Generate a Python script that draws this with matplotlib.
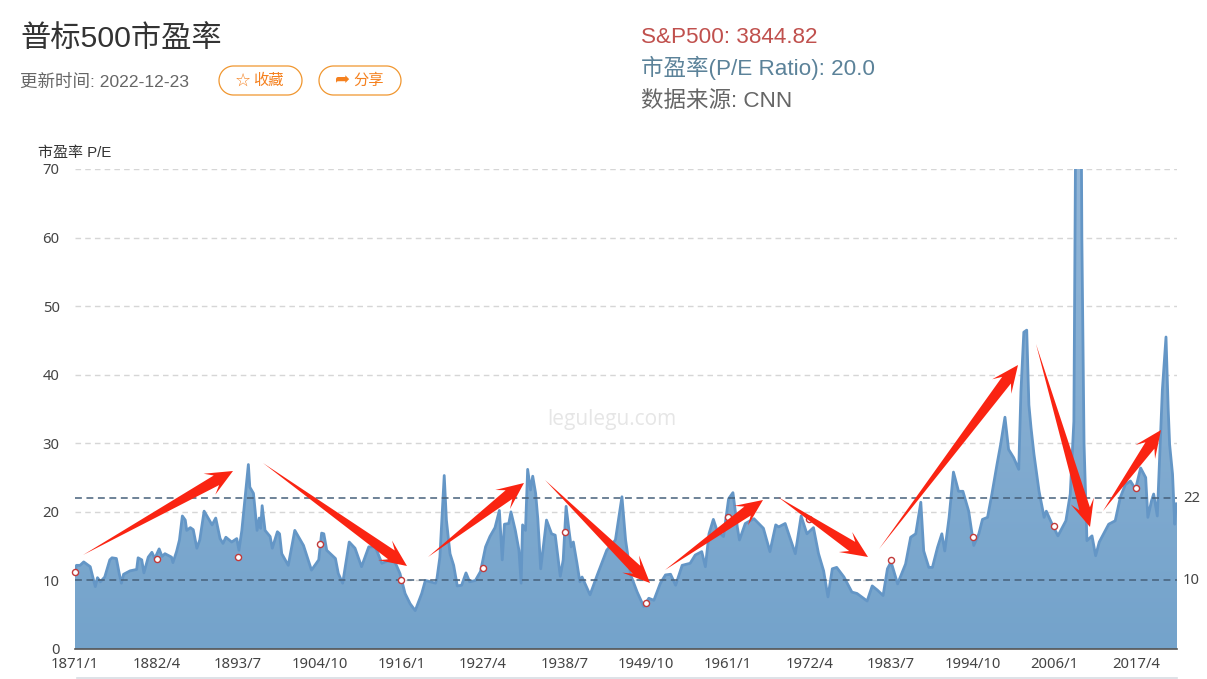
import numpy as np
import matplotlib.pyplot as plt
from matplotlib.patches import Polygon

plt.rcParams['font.family'] = ['Liberation Sans', 'Noto Sans CJK SC', 'DejaVu Sans']

W, H = 1207, 679

# decimal year, P/E
pe_year = [
    1871.0, 1871.2, 1871.7, 1872.2, 1873.1, 1873.5, 1873.8, 1874.1, 1874.5, 1875.1, 1875.8, 1876.1, 1876.7, 1877.1,
    1877.4, 1877.7, 1878.6, 1879.5, 1879.7, 1880.2, 1880.5, 1881.1, 1881.6, 1882.0, 1882.6, 1883.0, 1883.4, 1884.3,
    1884.5, 1885.0, 1885.4, 1885.8, 1886.2, 1886.4, 1886.9, 1887.3, 1887.8, 1888.2, 1888.8, 1889.4, 1889.9, 1890.4,
    1891.0, 1891.4, 1891.8, 1892.6, 1893.3, 1893.6, 1894.0, 1894.6, 1894.9, 1895.1, 1895.6, 1896.1, 1896.4, 1896.6,
    1896.8, 1897.2, 1897.9, 1898.2, 1898.9, 1899.2, 1899.5, 1900.4, 1901.3, 1902.5, 1903.6, 1904.6, 1905.0, 1905.3,
    1905.7, 1906.9, 1907.3, 1907.9, 1908.8, 1909.6, 1910.5, 1911.5, 1912.4, 1913.3, 1914.9, 1915.8, 1916.5, 1917.2,
    1917.9, 1918.8, 1919.3, 1920.0, 1920.7, 1920.9, 1921.3, 1921.9, 1922.2, 1922.7, 1923.2, 1923.7, 1924.3, 1924.9,
    1925.4, 1926.2, 1926.9, 1927.6, 1928.2, 1928.9, 1929.5, 1929.9, 1930.2, 1930.8, 1931.1, 1931.7, 1932.2, 1932.5,
    1932.7, 1933.1, 1933.4, 1933.8, 1934.1, 1934.5, 1934.8, 1935.2, 1936.0, 1936.7, 1937.2, 1937.9, 1938.3, 1938.7,
    1939.1, 1939.4, 1939.7, 1940.2, 1940.6, 1940.9, 1942.0, 1943.0, 1944.3, 1945.5, 1946.4, 1946.9, 1947.6, 1948.5,
    1949.4, 1950.1, 1950.8, 1951.7, 1952.4, 1953.1, 1953.8, 1954.7, 1955.8, 1956.5, 1957.4, 1957.9, 1958.4, 1959.0,
    1959.5, 1960.4, 1961.1, 1961.7, 1962.3, 1962.6, 1963.4, 1964.6, 1965.9, 1966.8, 1967.6, 1968.0, 1968.9, 1970.3,
    1971.1, 1971.9, 1972.8, 1973.5, 1974.2, 1974.8, 1975.4, 1976.0, 1977.0, 1978.1, 1978.8, 1980.2, 1980.9, 1981.6,
    1982.4, 1983.0, 1983.5, 1984.4, 1985.5, 1986.2, 1986.9, 1987.6, 1988.0, 1988.7, 1989.2, 1989.9, 1990.5, 1990.9,
    1991.5, 1992.1, 1992.8, 1993.4, 1994.2, 1994.9, 1995.6, 1996.1, 1996.8, 1997.4, 1998.1, 1998.6, 1999.2, 1999.7,
    2000.4, 2001.1, 2001.4, 2001.8, 2002.2, 2002.5, 2002.8, 2003.2, 2003.9, 2004.6, 2004.9, 2005.7, 2006.5, 2007.6,
    2008.2, 2008.7, 2009.0, 2009.5, 2009.8, 2010.1, 2010.5, 2011.2, 2011.7, 2012.2, 2012.8, 2013.5, 2014.4, 2015.1,
    2015.8, 2016.5, 2017.2, 2017.9, 2018.6, 2018.9, 2019.4, 2019.7, 2020.2, 2020.6, 2020.9, 2021.4, 2021.7, 2021.9,
    2022.3, 2022.6, 2022.8, 2022.95,
]
pe_value = [
    11.2, 12.2, 12.2, 12.7, 12.0, 10.3, 9.1, 10.4, 9.8, 10.5, 13.0, 13.3, 13.2, 11.0,
    9.6, 10.9, 11.4, 11.6, 13.3, 13.0, 11.1, 13.4, 14.1, 13.2, 14.6, 13.5, 13.9, 13.4,
    12.6, 14.2, 15.9, 19.4, 18.8, 17.3, 17.7, 17.4, 14.7, 15.9, 20.1, 19.0, 18.1, 19.1,
    16.1, 15.4, 16.3, 15.6, 16.1, 14.4, 17.3, 23.6, 26.9, 23.6, 22.7, 17.3, 19.1, 17.6,
    20.9, 17.3, 16.4, 14.7, 17.1, 16.8, 13.9, 12.2, 17.3, 15.1, 11.5, 13.0, 16.9, 16.8,
    14.4, 13.2, 11.0, 9.6, 15.6, 14.7, 12.0, 14.9, 14.9, 12.5, 13.2, 11.0, 8.1, 6.6,
    5.6, 8.1, 10.0, 9.8, 9.6, 10.3, 13.4, 25.3, 18.8, 13.9, 12.2, 9.2, 9.3, 11.1,
    9.8, 10.0, 11.3, 14.9, 16.4, 17.7, 20.2, 13.0, 18.2, 18.3, 20.0, 17.3, 14.4, 9.6,
    18.1, 17.3, 26.2, 23.2, 25.2, 22.7, 19.0, 11.7, 18.8, 16.8, 16.6, 10.6, 13.0, 20.8,
    17.3, 14.9, 15.6, 12.5, 9.8, 10.5, 7.9, 10.8, 14.4, 15.9, 22.2, 15.9, 10.8, 8.3,
    6.2, 7.4, 7.1, 9.6, 10.8, 10.9, 9.3, 12.2, 12.5, 13.7, 14.2, 12.0, 16.8, 18.9,
    17.3, 16.4, 21.9, 22.8, 17.8, 15.9, 18.3, 19.0, 17.6, 14.2, 18.1, 17.8, 18.3, 13.9,
    19.4, 16.8, 17.7, 13.9, 11.4, 7.6, 11.7, 11.9, 10.5, 8.3, 8.1, 7.0, 9.2, 8.6,
    7.8, 11.7, 12.7, 9.5, 12.4, 16.3, 16.8, 21.4, 14.3, 11.9, 11.9, 14.8, 16.8, 14.3,
    19.2, 25.8, 23.0, 23.0, 20.1, 15.1, 16.8, 18.9, 19.2, 22.6, 26.9, 29.8, 33.8, 29.1,
    27.9, 26.2, 37.5, 46.2, 46.5, 35.6, 32.2, 28.4, 23.0, 19.2, 20.1, 18.2, 16.5, 18.7,
    22.6, 33.2, 85.0, 120.0, 60.0, 30.0, 15.8, 16.5, 13.6, 15.6, 16.8, 18.2, 18.7, 22.1,
    24.0, 24.5, 23.3, 26.4, 25.0, 19.2, 21.6, 22.6, 19.4, 29.8, 37.8, 45.5, 35.1, 29.8,
    25.5, 18.2, 21.2, 20.1,
]

# tick labels and the open dots sitting on them
tick_labels = ['1871/1', '1882/4', '1893/7', '1904/10', '1916/1', '1927/4', '1938/7',
               '1949/10', '1961/1', '1972/4', '1983/7', '1994/10', '2006/1', '2017/4']
dot_values = [11.2, 13.1, 13.4, 15.3, 10.0, 11.8, 17.0, 6.7, 19.3, 19.0, 13.0, 16.3, 18.0, 23.5]
y_ticks = [0, 10, 20, 30, 40, 50, 60, 70]
line_values = [22, 10]

# arrows drawn over the chart, pixel positions (tail x, tail y, tip x, tip y)
arrows_px = [
    (83, 555, 233, 471), (263, 463, 407, 566), (428, 557, 524, 483),
    (545, 480, 650, 583), (665, 570, 763, 500), (778, 497, 868, 557),
    (879, 549, 1018, 365), (1036, 344, 1090, 527), (1103, 511, 1161, 430),
]


def fx(px):
    return px / W


def fy(py):
    return 1 - py / H


def red_arrow(fig, x0, y0, x1, y1):
    # thin tail growing to a barbed head, like the hand-drawn marks
    d = np.array([x1 - x0, y1 - y0], dtype=float)
    u = d / np.hypot(*d)
    n = np.array([-u[1], u[0]])
    tip = np.array([x1, y1], dtype=float)
    neck = tip - u * 19
    barb = tip - u * 27
    pts = [np.array([x0, y0]), neck + n * 5.5, barb + n * 12, tip, barb - n * 12, neck - n * 5.5]
    pts = [(fx(p[0]), fy(p[1])) for p in pts]
    fig.add_artist(Polygon(pts, closed=True, transform=fig.transFigure, facecolor='#FA2412',
                           edgecolor='none', zorder=10))


def button(fig, x0, x1, icon, label):
    y0, y1 = 66, 95
    r = (y1 - y0) / 2
    t = np.linspace(-np.pi / 2, np.pi / 2, 40)
    xs = np.r_[x1 - r + r * np.cos(t), x0 + r - r * np.cos(t)]
    ys = np.r_[y0 + r + r * np.sin(t), y0 + r - r * np.sin(t)]
    fig.add_artist(Polygon(np.column_stack([fx(xs), fy(ys)]), closed=True, transform=fig.transFigure,
                           facecolor='white', edgecolor='#F0962F', linewidth=0.9))
    fig.text(fx(x0 + 16), fy(81), icon, fontsize=13, color='#F5811F', ha='left', va='center',
             family=['DejaVu Sans'])
    fig.text(fx(x0 + 34), fy(81), label, fontsize=11, color='#F5811F', ha='left', va='center')


fig = plt.figure(figsize=(W / 100, H / 100), dpi=100, facecolor='white')
ax = fig.add_axes([fx(75), fy(649), (1177 - 75) / W, (649 - 169) / H])

x = np.array(pe_year)
y = np.array(pe_value)
x_end = 1871 + 1823 / 12

tick_pos = []
for lab in tick_labels:
    yr, mo = lab.split('/')
    tick_pos.append(int(yr) + (int(mo) - 1) / 12)

# area with vertical gradient, clipped to the curve
grad = np.linspace(0, 1, 256).reshape(-1, 1)
top = np.array([0x93, 0xB6, 0xD7]) / 255
bot = np.array([0x74, 0xA3, 0xCB]) / 255
img = (top + (bot - top) * grad[..., None]).reshape(256, 1, 3)
im = ax.imshow(img, extent=[1871, x_end, 0, 70], aspect='auto', zorder=2, interpolation='bilinear')
clip = Polygon(np.column_stack([np.r_[x[0], x, x[-1]], np.r_[0, y, 0]]), closed=True,
               transform=ax.transData, facecolor='none', edgecolor='none')
ax.add_patch(clip)
im.set_clip_path(clip)

ax.plot(x, y, color='#6496C6', lw=2.0, zorder=3, solid_joinstyle='round')

for v in y_ticks[1:]:
    ax.axhline(v, color='#D6D6D6', lw=1, dashes=(4, 3), zorder=1)
for v in line_values:
    ax.plot([1871, x_end], [v, v], color='#46607A', lw=1.1, dashes=(4.5, 3), zorder=4)
    ax.text(x_end + 0.8, v, str(v), color='#444444', fontsize=10.7, va='center', ha='left',
            family=['Noto Sans'])

ax.plot(tick_pos, dot_values, ls='none', marker='o', ms=4.4, mfc='white', mec='#C23A3A', mew=1.0,
        zorder=5, clip_on=False)

ax.text(0.487, 0.478, 'legulegu.com', transform=ax.transAxes, fontsize=15, color='#E6E6E6',
        ha='center', va='center', zorder=1, family=['Open Sans'])

ax.set_xlim(1871, x_end)
ax.set_ylim(0, 70)
ax.set_xticks(tick_pos)
ax.set_xticklabels(tick_labels, family='Noto Sans')
ax.set_yticks(y_ticks)
ax.set_yticklabels([str(v) for v in y_ticks], family='Noto Sans')
ax.tick_params(axis='both', length=0, labelsize=10.7, labelcolor='#444444')
ax.tick_params(axis='x', pad=6)
ax.tick_params(axis='y', pad=11)
for s in ['top', 'right', 'left']:
    ax.spines[s].set_visible(False)
ax.spines['bottom'].set_color('#555555')
ax.spines['bottom'].set_linewidth(1.2)
ax.spines['bottom'].set_zorder(6)

# header
fig.text(fx(20), fy(47), '普标500市盈率', fontsize=21.8, color='#333333', ha='left', va='baseline')
fig.text(fx(20), fy(87), '更新时间: 2022-12-23', fontsize=12.6, color='#666666', ha='left', va='baseline')
button(fig, 219, 302, '☆', '收藏')
button(fig, 319, 401, '➦', '分享')

fig.text(fx(641), fy(43), 'S&P500: 3844.82', fontsize=16.2, color='#C0504D', ha='left', va='baseline')
fig.text(fx(641), fy(75), '市盈率(P/E Ratio): 20.0', fontsize=16.2, color='#5B8299', ha='left', va='baseline')
fig.text(fx(641), fy(107), '数据来源: CNN', fontsize=16.2, color='#666666', ha='left', va='baseline')

fig.text(fx(38), fy(153), '市盈率 P/E', fontsize=10.8, color='#333333', ha='left', va='center')

# top edge of the cut-off zoom slider
fig.add_artist(plt.Line2D([fx(77), fx(1177)], [fy(678), fy(678)], color='#D8DDE3', lw=1.2,
                          transform=fig.transFigure))

for a in arrows_px:
    red_arrow(fig, *a)

fig.savefig('out.png', dpi=100)
